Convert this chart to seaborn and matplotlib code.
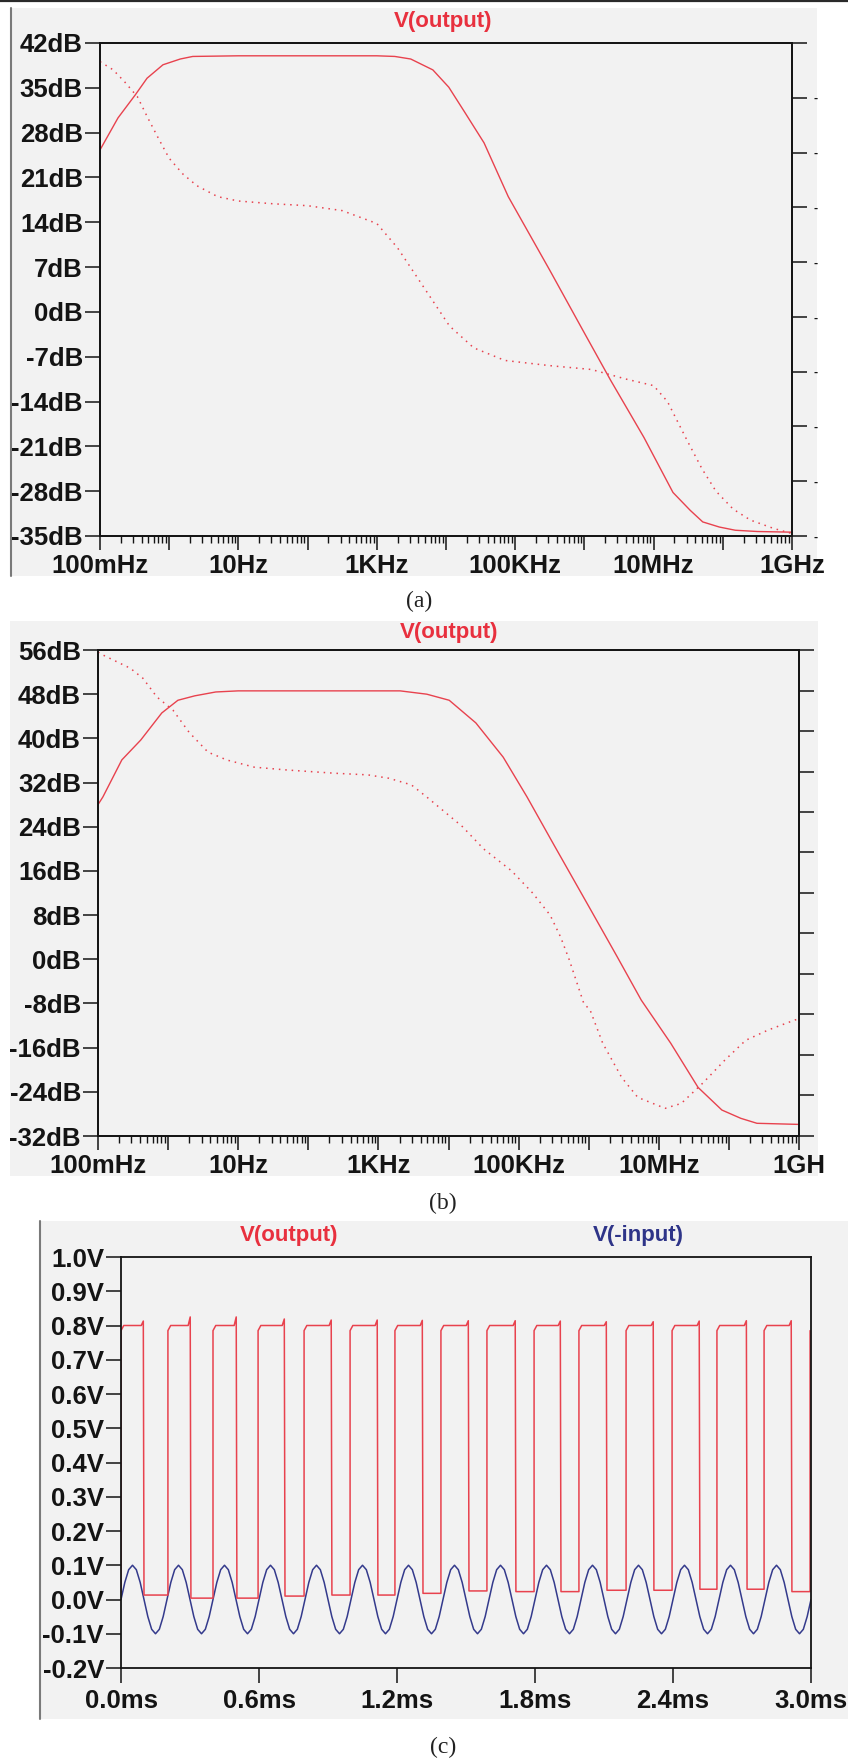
import numpy as np
import matplotlib
matplotlib.use("Agg")
import matplotlib.pyplot as plt
from matplotlib.patches import Rectangle
from matplotlib.lines import Line2D
from matplotlib.ticker import LogLocator, NullFormatter
import seaborn as sns

# ---- values ----
# (a) gain (solid, left axis dB) and phase (dotted, right axis deg); frequency as log10(Hz)
a_mag_logf = [-1.0, -0.74, -0.49, -0.32, -0.09, 0.16, 0.34, 1.0, 2.0, 3.0, 3.26, 3.49, 3.81, 4.04,
              4.27, 4.55, 4.90, 5.5, 6.0, 6.38, 6.86, 7.28, 7.53, 7.71, 7.95, 8.18, 8.5, 9.0]
a_mag_db = [25.3, 30.3, 33.9, 36.5, 38.6, 39.5, 39.9, 40.0, 40.0, 40.0, 39.9, 39.5, 37.8, 35.1,
            31.2, 26.4, 18.0, 6.5, -3.3, -10.7, -19.6, -28.2, -31.0, -32.8, -33.6, -34.1, -34.3, -34.4]
a_ph_logf = [-1.0, -0.81, -0.64, -0.46, -0.31, -0.15, 0.0, 0.2, 0.4, 0.7, 1.0, 1.5, 2.0, 2.5, 3.0,
             3.3, 3.7, 4.05, 4.4, 4.85, 5.5, 6.1, 6.6, 7.0, 7.2, 7.48, 7.7, 7.9, 8.15, 8.4, 8.73, 9.0]
a_ph_deg = [-6.8, -9.8, -14.3, -19.6, -27.3, -35.1, -42.1, -47.9, -52.1, -56.1, -57.7, -58.7, -59.4,
            -61.2, -65.9, -74.8, -90.0, -103.3, -111.3, -115.9, -117.8, -119.2, -122.7, -125.1,
            -130.9, -144.9, -155.5, -163.6, -170.2, -174.2, -177.2, -179.1]
a_yticks = [-35, -28, -21, -14, -7, 0, 7, 14, 21, 28, 35, 42]
a_phticks = [-180, -160, -140, -120, -100, -80, -60, -40, -20, 0]
a_freq_labels = ["100mHz", "", "10Hz", "", "1KHz", "", "100KHz", "", "10MHz", "", "1GHz"]

# (b)
b_mag_logf = [-1.0, -0.93, -0.66, -0.39, -0.09, 0.14, 0.38, 0.68, 1.0, 2.0, 3.0, 3.31, 3.69, 4.01,
              4.39, 4.78, 5.12, 5.5, 6.0, 6.4, 6.75, 7.17, 7.56, 7.9, 8.17, 8.4, 9.0]
b_mag_db = [28.0, 29.4, 36.1, 39.7, 44.6, 46.9, 47.7, 48.4, 48.6, 48.6, 48.6, 48.6, 48.0, 46.9,
            42.8, 36.6, 29.4, 20.8, 9.6, 0.6, -7.4, -15.2, -23.2, -27.3, -28.8, -29.7, -29.9]
b_ph_logf = [-1.0, -0.93, -0.54, -0.36, -0.16, 0.07, 0.30, 0.57, 0.84, 1.23, 1.70, 2.38, 2.85,
             3.15, 3.47, 3.69, 4.2, 4.5, 4.9, 5.2, 5.45, 5.6, 5.72, 5.93, 6.02, 6.20, 6.47, 6.70,
             7.09, 7.32, 7.63, 7.94, 8.24, 8.56, 8.94, 9.0]
b_ph_deg = [178.4, 176.3, 166.5, 159.1, 145.2, 135.4, 119.0, 104.3, 98.5, 93.2, 91.1, 88.7, 87.5,
            85.0, 80.1, 71.1, 49.1, 32.7, 16.4, 0.0, -16.4, -32.7, -49.1, -81.8, -86.7, -111.3,
            -136.6, -151.4, -159.5, -155.9, -140.7, -123.9, -109.1, -101.5, -94.1, -93.3]
b_yticks = [-32, -24, -16, -8, 0, 8, 16, 24, 32, 40, 48, 56]
b_phticks = [-180, -150, -120, -90, -60, -30, 0, 30, 60, 90, 120, 150, 180]
b_freq_labels = ["100mHz", "", "10Hz", "", "1KHz", "", "100KHz", "", "10MHz", "", "1GH"]

freq_ticks = [1e-1, 1, 1e1, 1e2, 1e3, 1e4, 1e5, 1e6, 1e7, 1e8, 1e9]

# (c) transient: comparator output (red) and -input sine (blue), time in ms
c_fall_ms = [0.100, 0.304, 0.504, 0.713, 0.917, 1.117, 1.313, 1.513, 1.717, 1.913, 2.113, 2.317,
             2.517, 2.722, 2.917]
c_rise_ms = [0.204, 0.400, 0.596, 0.796, 0.996, 1.191, 1.391, 1.591, 1.796, 1.991, 2.196, 2.396,
             2.591, 2.796, 2.996]
c_low_v = [0.013, 0.004, 0.004, 0.010, 0.013, 0.013, 0.018, 0.025, 0.023, 0.023, 0.027, 0.027,
           0.030, 0.030, 0.023]
c_spike_v = [0.813, 0.825, 0.825, 0.819, 0.816, 0.816, 0.815, 0.814, 0.814, 0.813, 0.811, 0.811,
             0.813, 0.814, 0.814]
c_high_v = 0.80
c_in_v = [0.0, 0.05, 0.087, 0.1, 0.087, 0.05, 0.0, -0.05, -0.087, -0.1, -0.087, -0.05,
          0.0, 0.05, 0.087, 0.1, 0.087, 0.05, 0.0, -0.05, -0.087, -0.1, -0.087, -0.05,
          0.0, 0.05, 0.087, 0.1, 0.087, 0.05, 0.0, -0.05, -0.087, -0.1, -0.087, -0.05,
          0.0, 0.05, 0.087, 0.1, 0.087, 0.05, 0.0, -0.05, -0.087, -0.1, -0.087, -0.05,
          0.0, 0.05, 0.087, 0.1, 0.087, 0.05, 0.0, -0.05, -0.087, -0.1, -0.087, -0.05,
          0.0, 0.05, 0.087, 0.1, 0.087, 0.05, 0.0, -0.05, -0.087, -0.1, -0.087, -0.05,
          0.0, 0.05, 0.087, 0.1, 0.087, 0.05, 0.0, -0.05, -0.087, -0.1, -0.087, -0.05,
          0.0, 0.05, 0.087, 0.1, 0.087, 0.05, 0.0, -0.05, -0.087, -0.1, -0.087, -0.05,
          0.0, 0.05, 0.087, 0.1, 0.087, 0.05, 0.0, -0.05, -0.087, -0.1, -0.087, -0.05,
          0.0, 0.05, 0.087, 0.1, 0.087, 0.05, 0.0, -0.05, -0.087, -0.1, -0.087, -0.05,
          0.0, 0.05, 0.087, 0.1, 0.087, 0.05, 0.0, -0.05, -0.087, -0.1, -0.087, -0.05,
          0.0, 0.05, 0.087, 0.1, 0.087, 0.05, 0.0, -0.05, -0.087, -0.1, -0.087, -0.05,
          0.0, 0.05, 0.087, 0.1, 0.087, 0.05, 0.0, -0.05, -0.087, -0.1, -0.087, -0.05,
          0.0, 0.05, 0.087, 0.1, 0.087, 0.05, 0.0, -0.05, -0.087, -0.1, -0.087, -0.05,
          0.0, 0.05, 0.087, 0.1, 0.087, 0.05, 0.0, -0.05, -0.087, -0.1, -0.087, -0.05,
          0.0]
c_in_t = np.linspace(0, 3.0, len(c_in_v))
c_yticks = [-0.2, -0.1, 0.0, 0.1, 0.2, 0.3, 0.4, 0.5, 0.6, 0.7, 0.8, 0.9, 1.0]
c_ylabels = ["-0.2V", "-0.1V", "0.0V", "0.1V", "0.2V", "0.3V", "0.4V", "0.5V", "0.6V", "0.7V",
             "0.8V", "0.9V", "1.0V"]
c_xticks = [0.0, 0.6, 1.2, 1.8, 2.4, 3.0]
c_xlabels = ["0.0ms", "0.6ms", "1.2ms", "1.8ms", "2.4ms", "3.0ms"]

# ---- style ----
sns.set_theme(style="ticks")
plt.rcParams['font.family'] = ['Liberation Sans', 'DejaVu Sans']
plt.rcParams['font.weight'] = 'bold'
plt.rcParams['axes.unicode_minus'] = False

RED_TXT = '#e8303e'
RED_LINE = '#e8424e'
BLUE_TXT = '#2e3488'
BLUE_LINE = '#343a8c'
GRAY = '#f2f2f2'
INK = '#141414'
TICK_FS = 18.5
CAP_FONT = ['Liberation Serif', 'DejaVu Serif']

W, H = 848, 1760
fig = plt.figure(figsize=(W / 100, H / 100), dpi=100, facecolor='white')


def px_axes(left, top, right, bottom):
    return fig.add_axes([left / W, 1 - bottom / H, (right - left) / W, (bottom - top) / H])


def px_rect(x0, y0, x1, y1, **kw):
    fig.add_artist(Rectangle((x0 / W, 1 - y1 / H), (x1 - x0) / W, (y1 - y0) / H,
                             transform=fig.transFigure, **kw))


def px_line(xs, ys, **kw):
    fig.add_artist(Line2D([x / W for x in xs], [1 - y / H for y in ys],
                          transform=fig.transFigure, **kw))


def frame(ax):
    ax.set_facecolor('none')
    for s in ax.spines.values():
        s.set_linewidth(1.3)
        s.set_color(INK)
        s.set_visible(True)
    ax.set_xlabel('')
    ax.set_ylabel('')


# screenshot backgrounds and borders
px_line([0, W], [1, 1], color='#2a2a2a', lw=1.6, zorder=-4)
px_rect(11, 8, 817, 576, color=GRAY, zorder=-5, lw=0)
px_line([11, 11], [8, 576], color='#7a7a7a', lw=1.5, zorder=-4)
px_rect(10, 621, 818, 1176, color=GRAY, zorder=-5, lw=0)
px_rect(40, 1221, 848, 1719, color=GRAY, zorder=-5, lw=0)
px_line([40, 40], [1221, 1719], color='#7a7a7a', lw=1.5, zorder=-4)


def bode(box, mag_logf, mag_db, ph_logf, ph_deg, yticks, phticks, freq_labels, ph_marks):
    ax = px_axes(*box)
    ax.set_xscale('log')
    sns.lineplot(x=10 ** np.array(mag_logf), y=mag_db, ax=ax, color=RED_LINE, lw=1.0,
                 sort=False, estimator=None)
    ax2 = ax.twinx()
    sns.lineplot(x=10 ** np.array(ph_logf), y=ph_deg, ax=ax2, color=RED_LINE, lw=1.1,
                 linestyle=(0, (1, 3.2)), sort=False, estimator=None)
    ax.set_xlim(1e-1, 1e9)
    ax.set_ylim(yticks[0], yticks[-1])
    ax.set_yticks(yticks, [f"{v}dB" for v in yticks])
    ax.set_xticks(freq_ticks, freq_labels)
    ax.xaxis.set_minor_locator(LogLocator(base=10, subs=np.arange(2, 10), numticks=100))
    ax.xaxis.set_minor_formatter(NullFormatter())
    ax2.set_ylim(phticks[0], phticks[-1])
    # the phase labels are cropped by the screenshot edge: only a dash survives
    ax2.set_yticks(phticks, ['' if v == phticks[-1] else '-' for v in phticks])
    frame(ax)
    frame(ax2)
    ax.tick_params(axis='y', which='major', left=True, length=10.8, width=1.1, pad=1.5,
                   labelsize=TICK_FS, colors=INK)
    ax.tick_params(axis='x', which='major', bottom=True, length=10, width=1.1, pad=3,
                   labelsize=TICK_FS, colors=INK)
    ax.tick_params(axis='x', which='minor', bottom=True, length=5, width=1.0, color=INK)
    ax2.tick_params(axis='y', which='major', right=True, length=10.8, width=1.1, pad=4.5,
                    labelsize=9, colors=INK, labelright=ph_marks)
    return ax


bode((100, 43, 792, 536), a_mag_logf, a_mag_db, a_ph_logf, a_ph_deg,
     a_yticks, a_phticks, a_freq_labels, True)
fig.text(443 / W, 1 - 22 / H, "V(output)", ha='center', va='center', color=RED_TXT,
         fontsize=16, weight='bold')
fig.text(419 / W, 1 - 601 / H, "(a)", ha='center', va='center', color='#222222', fontsize=17,
         family=CAP_FONT, weight='normal')

bode((98, 650, 799, 1136), b_mag_logf, b_mag_db, b_ph_logf, b_ph_deg,
     b_yticks, b_phticks, b_freq_labels, False)
fig.text(449 / W, 1 - 632 / H, "V(output)", ha='center', va='center', color=RED_TXT,
         fontsize=16, weight='bold')
fig.text(443 / W, 1 - 1203 / H, "(b)", ha='center', va='center', color='#222222', fontsize=17,
         family=CAP_FONT, weight='normal')

# (c) transient
out_t, out_v = [0.0, 0.0, 0.012], [0.02, 0.785, c_high_v]
for k in range(len(c_fall_ms)):
    f, r, lo = c_fall_ms[k], c_rise_ms[k], c_low_v[k]
    out_t += [f - 0.012, f - 0.003, f, r, r]
    out_v += [c_high_v, c_spike_v[k], lo, lo, 0.785]
    if k < len(c_fall_ms) - 1:
        out_t.append(r + 0.012)
        out_v.append(c_high_v)

axc = px_axes(121, 1257, 811, 1668)
sns.lineplot(x=c_in_t, y=c_in_v, ax=axc, color=BLUE_LINE, lw=1.1, sort=False, estimator=None)
sns.lineplot(x=out_t, y=out_v, ax=axc, color=RED_LINE, lw=1.1, sort=False, estimator=None)
axc.set_xlim(0, 3.0)
axc.set_ylim(-0.2, 1.0)
axc.set_xticks(c_xticks, c_xlabels)
axc.set_yticks(c_yticks, c_ylabels)
frame(axc)
axc.tick_params(axis='y', which='major', left=True, right=False, length=10.8, width=1.1, pad=1.5,
                labelsize=TICK_FS, colors=INK)
axc.tick_params(axis='x', which='major', bottom=True, top=False, length=10.8, width=1.1, pad=4,
                labelsize=TICK_FS, colors=INK)

fig.text(289 / W, 1 - 1235 / H, "V(output)", ha='center', va='center', color=RED_TXT,
         fontsize=16, weight='bold')
fig.text(638 / W, 1 - 1235 / H, "V(-input)", ha='center', va='center', color=BLUE_TXT,
         fontsize=16, weight='bold')
fig.text(443 / W, 1 - 1747 / H, "(c)", ha='center', va='center', color='#222222', fontsize=17,
         family=CAP_FONT, weight='normal')

fig.savefig('out.png', dpi=100, facecolor='white')
